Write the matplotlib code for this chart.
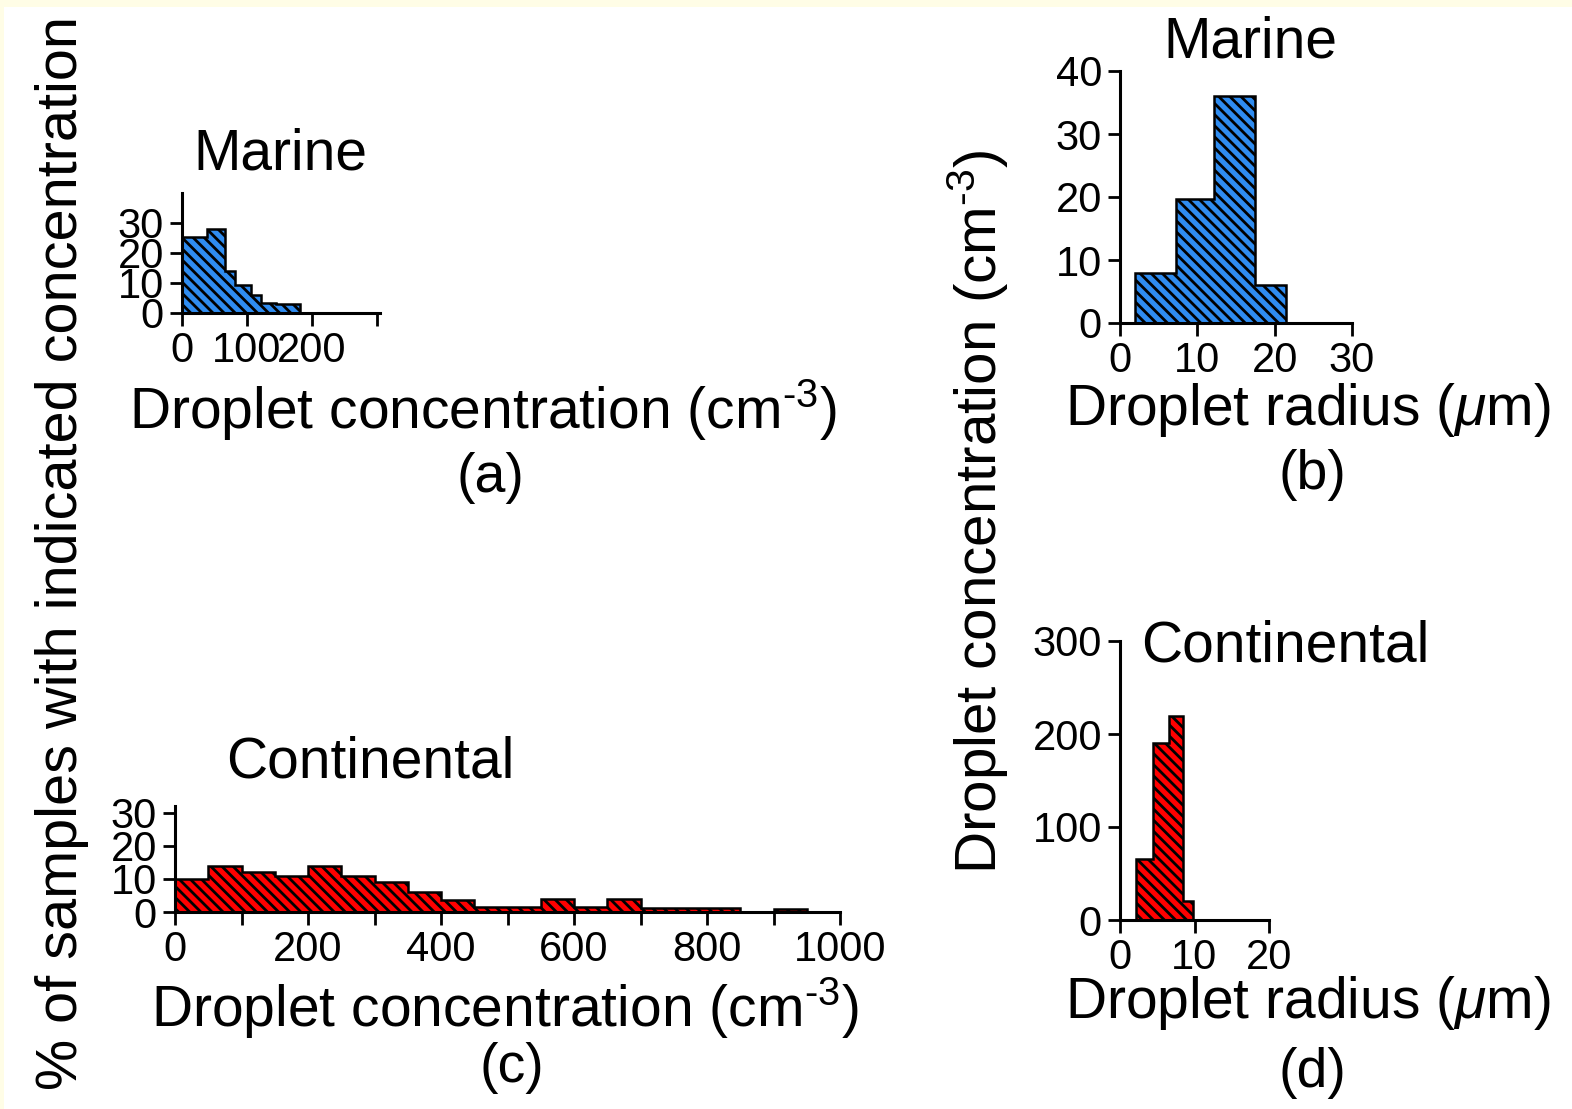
import matplotlib
matplotlib.use('Agg')
import matplotlib.pyplot as plt
from matplotlib.patches import Rectangle

W, H = 1572, 1109

# (a) marine droplet concentration histogram (% of samples)
marine_conc_edges = [0, 38, 66, 82, 106, 121, 145, 182]
marine_conc_pct = [25.5, 28, 14, 9.5, 6, 3.5, 3]

# (b) marine droplet radius histogram (cm-3)
marine_rad_edges = [2, 7.3, 12.2, 17.5, 21.5]
marine_rad_conc = [8, 19.7, 36, 6]

# (c) continental droplet concentration histogram (% of samples)
cont_conc_edges = [0, 50, 100, 150, 200, 250, 300, 350, 400, 450, 500,
                   550, 600, 650, 700, 750, 800, 850, 900, 950, 1000]
cont_conc_pct = [10, 14, 12, 11, 14, 11, 9, 6, 3.5, 1.5,
                 1.5, 3.8, 1.5, 3.8, 1.3, 1.3, 1.3, 0, 1, 0]

# (d) continental droplet radius histogram (cm-3)
cont_rad_edges = [2.2, 4.4, 6.6, 8.4, 9.8]
cont_rad_conc = [66, 190, 219, 20]

BLUE = '#2f8cf0'
RED = '#ff0000'
HATCH = '\\' * 3

plt.rcParams['font.family'] = ['Liberation Sans', 'DejaVu Sans']
plt.rcParams['mathtext.fontset'] = 'custom'
plt.rcParams['mathtext.rm'] = 'Liberation Sans'
plt.rcParams['mathtext.it'] = 'Liberation Sans:italic'
plt.rcParams['hatch.linewidth'] = 2.0

fig = plt.figure(figsize=(W / 100, H / 100), dpi=100)
fig.patch.set_facecolor('#fffde6')
fig.add_artist(Rectangle((4 / W, 0), 1 - 4 / W, 1 - 7 / H, transform=fig.transFigure,
                         facecolor='white', edgecolor='none', zorder=-1))


def px_axes(left, top, right, bottom):
    # axes placed by pixel box (top-left origin)
    return fig.add_axes([left / W, 1 - bottom / H, (right - left) / W, (bottom - top) / H])


def style(ax, xlim, ylim, xticks, xlabels, yticks, size=30):
    ax.set_facecolor('none')
    for s in ['top', 'right']:
        ax.spines[s].set_visible(False)
    for s in ['left', 'bottom']:
        ax.spines[s].set_linewidth(2.2)
    ax.set_xlim(*xlim)
    ax.set_ylim(*ylim)
    ax.set_xticks(xticks)
    ax.set_xticklabels(xlabels)
    ax.set_yticks(yticks)
    ax.tick_params(direction='out', length=9, width=2, labelsize=size, pad=4)


def hist(ax, edges, values, color):
    ax.stairs(values, edges, fill=True, facecolor=color, edgecolor='black',
              hatch=HATCH, linewidth=1.8)


def ftext(x, y, s, size=40, rot=0):
    fig.text(x / W, 1 - y / H, s, ha='center', va='center', fontsize=size, rotation=rot)


CM3 = r'Droplet concentration (cm$^{\text{-3}}$)'
UM = r'Droplet radius ($\mu$m)'

# (a)
ax_a = px_axes(182, 193, 380, 313)
hist(ax_a, marine_conc_edges, marine_conc_pct, BLUE)
style(ax_a, (0, 305), (0, 40), [0, 100, 200, 300], ['0', '100', '200', ''], [0, 10, 20, 30])

# (b)
ax_b = px_axes(1120, 71, 1352, 323)
hist(ax_b, marine_rad_edges, marine_rad_conc, BLUE)
style(ax_b, (0, 30), (0, 40), [0, 10, 20, 30], ['0', '10', '20', '30'], [0, 10, 20, 30, 40])

# (c)
ax_c = px_axes(175, 806, 840, 912)
hist(ax_c, cont_conc_edges, cont_conc_pct, RED)
ticks_c = list(range(0, 1001, 100))
style(ax_c, (0, 1000), (0, 32), ticks_c,
      [str(t) if t % 200 == 0 else '' for t in ticks_c], [0, 10, 20, 30])

# (d)
ax_d = px_axes(1120, 641, 1269, 920)
hist(ax_d, cont_rad_edges, cont_rad_conc, RED)
style(ax_d, (0, 20), (0, 300), [0, 10, 20], ['0', '10', '20'], [0, 100, 200, 300])

# titles, axis labels and panel letters
ftext(280, 155, 'Marine', 41)
ftext(1250, 42, 'Marine', 41)
ftext(370, 763, 'Continental', 41)
ftext(1285, 647, 'Continental', 41)

ftext(483, 410, CM3, 41)
ftext(1308, 410, UM, 41)
ftext(505, 1008, CM3, 41)
ftext(1308, 1003, UM, 41)

ftext(490, 478, '(a)')
ftext(1312, 475, '(b)')
ftext(512, 1068, '(c)')
ftext(1312, 1073, '(d)')

ftext(62, 553, '% of samples with indicated concentration', 41.5, 90)
ftext(978, 512, CM3, 42, 90)

fig.savefig('out.png', dpi=100, facecolor=fig.get_facecolor())
